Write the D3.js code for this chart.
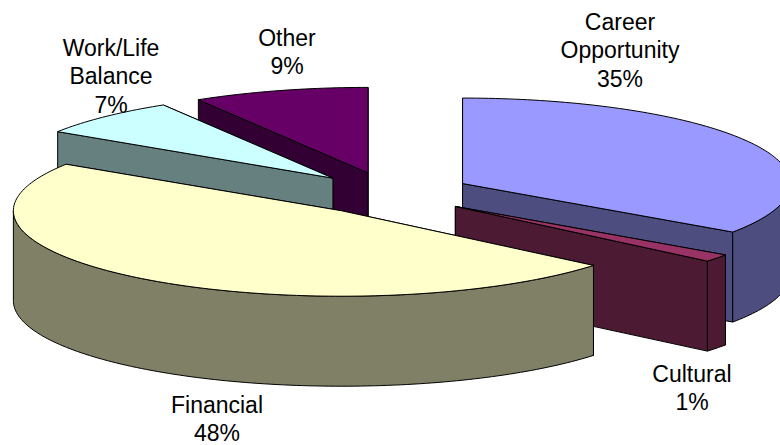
<!DOCTYPE html>
<html>
<head>
<meta charset="utf-8">
<script src="https://cdn.jsdelivr.net/npm/d3@7"></script>
<style>
    html, body { margin: 0; padding: 0; background: #fff; }
    svg { display: block; }
    text { font-family: "Liberation Sans", Arial, sans-serif; font-size: 23px; fill: #000; text-anchor: middle; }
</style>
</head>
<body>
<svg id="chart" width="780" height="445"></svg>
<script>
// Slices, clockwise from 12 o'clock
const categories = ["Career Opportunity", "Cultural", "Financial", "Work/Life Balance", "Other"];
const shares = [34.6, 1.45, 48.1, 7.2, 8.65];
const topColors = ["#9999ff", "#993366", "#ffffcc", "#ccffff", "#660066"];
const labelLines = [["Career", "Opportunity"], ["Cultural"], ["Financial"], ["Work/Life", "Balance"], ["Other"]];
// x centre and first baseline of each label
const labelX = [620, 692, 217, 111, 287];
const labelY = [30, 381.5, 413, 56, 46];
// back to front
const drawOrder = [4, 3, 0, 1, 2];

const width = 780, height = 445;
const depth = 90;
const explode = 0.25;
const lineHeight = 28.4;

// Unit circle -> flattened pie plane
const xScale = d3.scaleLinear().domain([-1, 1]).range([62, 718]);
const yScale = d3.scaleLinear().domain([-1, 1]).range([108, 279]);

const pie = d3.pie().sort(null);
const arcs = pie(shares);
const percent = d3.format(".0%");
const total = d3.sum(shares);

const svg = d3.select("#chart");
const line = d3.line().x((d) => d[0]).y((d) => d[1]);

// Point on a slice at radius r and angle a, moved out along the mid angle
function project(a, r, mid, dz) {
    const ux = r * Math.sin(a) + explode * Math.sin(mid);
    const uy = -r * Math.cos(a) - explode * Math.cos(mid);
    return [xScale(ux), yScale(uy) + (dz || 0)];
}

function rimAngles(a0, a1) {
    const steps = Math.max(2, Math.ceil((a1 - a0) / 0.02));
    return d3.range(steps + 1).map((i) => a0 + (a1 - a0) * i / steps);
}

function drawSlice(i) {
    const s = arcs[i];
    const mid = (s.startAngle + s.endAngle) / 2;
    const side = d3.rgb(topColors[i]);
    const sideColor = d3.rgb(side.r * 0.5, side.g * 0.5, side.b * 0.5).formatHex();
    const g = svg.append("g").attr("class", "slice");

    const face = (pts, fill) => g.append("path")
        .attr("d", line(pts) + "Z")
        .attr("fill", fill)
        .attr("stroke", "#000")
        .attr("stroke-width", 1)
        .attr("stroke-linejoin", "round");

    // Radial walls, the one nearer the viewer last
    const walls = [s.startAngle, s.endAngle]
        .sort((a, b) => project(a, 1, mid)[1] - project(b, 1, mid)[1]);
    walls.forEach((a) => {
        face([project(0, 0, mid), project(a, 1, mid), project(a, 1, mid, depth), project(0, 0, mid, depth)], sideColor);
    });

    // Outer wall, only the part facing the front
    const a0 = Math.max(s.startAngle, Math.PI / 2);
    const a1 = Math.min(s.endAngle, Math.PI * 1.5);
    if (a1 > a0) {
        const rim = rimAngles(a0, a1);
        face(rim.map((a) => project(a, 1, mid))
            .concat(rim.slice().reverse().map((a) => project(a, 1, mid, depth))), sideColor);
    }

    // Top face
    face([project(0, 0, mid)].concat(rimAngles(s.startAngle, s.endAngle).map((a) => project(a, 1, mid))), topColors[i]);
}

drawOrder.forEach(drawSlice);

// Labels
categories.forEach((name, i) => {
    const lines = labelLines[i].concat(percent(shares[i] / total));
    const t = svg.append("text").attr("class", "label").attr("aria-label", name);
    lines.forEach((l, k) => {
        t.append("tspan")
            .attr("x", labelX[i])
            .attr("y", labelY[i] + k * lineHeight)
            .text(l);
    });
});
</script>
</body>
</html>
